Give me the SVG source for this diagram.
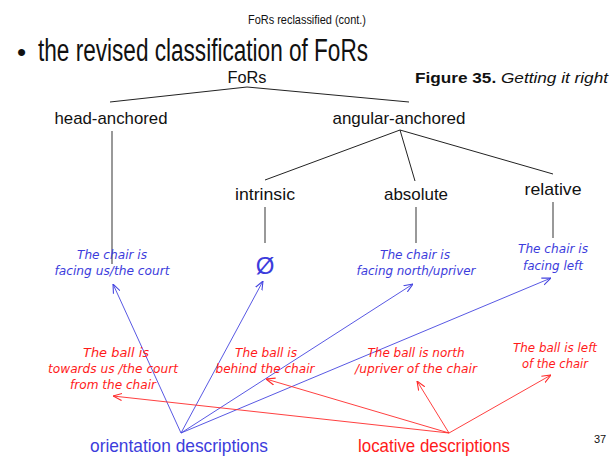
<svg xmlns="http://www.w3.org/2000/svg" width="613" height="456" viewBox="0 0 613 456">
<defs>
<style>
.k{font-family:"Liberation Sans",Arial,sans-serif;fill:#111;text-anchor:middle}
.b{font-family:"DejaVu Sans","Liberation Sans",sans-serif;font-style:italic;fill:#3c3cdc;text-anchor:middle;font-size:13px}
.r{font-family:"DejaVu Sans","Liberation Sans",sans-serif;font-style:italic;fill:#ff1a1a;text-anchor:middle;font-size:13px}
.t{stroke:#222;stroke-width:1;fill:none}
.v{stroke:#555;stroke-width:1.2;fill:none}
.ab{stroke:#4545e0;stroke-width:0.9;fill:none;marker-end:url(#mb)}
.ar{stroke:#ff2a2a;stroke-width:0.9;fill:none;marker-end:url(#mr)}
</style>
<marker id="mb" viewBox="0 0 10 10" refX="10" refY="5" markerWidth="9" markerHeight="9" markerUnits="userSpaceOnUse" orient="auto"><path d="M0,1 L10,5 L0,9" fill="none" stroke="#4545e0" stroke-width="1.2"/></marker>
<marker id="mr" viewBox="0 0 10 10" refX="10" refY="5" markerWidth="9" markerHeight="9" markerUnits="userSpaceOnUse" orient="auto"><path d="M0,1 L10,5 L0,9" fill="none" stroke="#ff2a2a" stroke-width="1.2"/></marker>
</defs>
<rect width="613" height="456" fill="#fff"/>
<g id="title">
<text class="k" x="307" y="24" font-size="13" textLength="118" lengthAdjust="spacingAndGlyphs">FoRs reclassified (cont.)</text>
<text x="17" y="61" font-family="Liberation Sans,Arial,sans-serif" font-size="26" fill="#111">•</text>
<text x="38" y="61" font-family="Liberation Sans,Arial,sans-serif" font-size="31" fill="#111" textLength="330" lengthAdjust="spacingAndGlyphs">the revised classification of FoRs</text>
<text x="415" y="83" font-family="Liberation Sans,Arial,sans-serif" font-size="14" fill="#111" textLength="193" lengthAdjust="spacingAndGlyphs"><tspan font-weight="bold">Figure 35.</tspan> <tspan font-style="italic">Getting it right</tspan></text>
</g>
<g id="connectors">
<polyline class="t" points="110,102 247,87 409,102"/>
<line class="v" x1="112" y1="131" x2="112" y2="264"/>
<line class="t" x1="400" y1="130" x2="265" y2="180"/>
<line class="t" x1="400" y1="130" x2="415" y2="181"/>
<line class="t" x1="400" y1="130" x2="553" y2="174"/>
<line class="v" x1="265" y1="207" x2="265" y2="243"/>
<line class="v" x1="416" y1="207" x2="416" y2="243"/>
<line class="v" x1="553" y1="202" x2="553" y2="238"/>
<line class="ab" x1="181" y1="433" x2="113" y2="284"/>
<line class="ab" x1="181" y1="433" x2="263" y2="281"/>
<line class="ab" x1="181" y1="433" x2="413" y2="284"/>
<line class="ab" x1="181" y1="433" x2="551" y2="278"/>
<line class="ar" x1="449" y1="433" x2="113" y2="396"/>
<line class="ar" x1="449" y1="433" x2="266" y2="379"/>
<line class="ar" x1="449" y1="433" x2="417" y2="381"/>
<line class="ar" x1="449" y1="433" x2="551" y2="375"/>
</g>
<g id="n-fors"><text class="k" x="247" y="83" font-size="17" textLength="39" lengthAdjust="spacingAndGlyphs">FoRs</text></g>
<g id="n-head"><text class="k" x="111" y="124" font-size="17" textLength="113" lengthAdjust="spacingAndGlyphs">head-anchored</text></g>
<g id="n-angular"><text class="k" x="399" y="124" font-size="17" textLength="133" lengthAdjust="spacingAndGlyphs">angular-anchored</text></g>
<g id="n-intrinsic"><text class="k" x="265" y="200" font-size="17" textLength="60" lengthAdjust="spacingAndGlyphs">intrinsic</text></g>
<g id="n-absolute"><text class="k" x="416" y="200" font-size="17" textLength="64" lengthAdjust="spacingAndGlyphs">absolute</text></g>
<g id="n-relative"><text class="k" x="553" y="195" font-size="17" textLength="57" lengthAdjust="spacingAndGlyphs">relative</text></g>
<g id="o-head">
<text class="b" x="112" y="259" textLength="70" lengthAdjust="spacingAndGlyphs">The chair is</text>
<text class="b" x="112" y="275" textLength="115" lengthAdjust="spacingAndGlyphs">facing us/the court</text>
</g>
<g id="o-intrinsic"><text x="265" y="274" font-family="Liberation Sans,sans-serif" font-size="24" fill="#3c3cdc" text-anchor="middle">Ø</text></g>
<g id="o-absolute">
<text class="b" x="415" y="259" textLength="70" lengthAdjust="spacingAndGlyphs">The chair is</text>
<text class="b" x="416" y="275" textLength="119" lengthAdjust="spacingAndGlyphs">facing north/upriver</text>
</g>
<g id="o-relative">
<text class="b" x="553" y="253" textLength="70" lengthAdjust="spacingAndGlyphs">The chair is</text>
<text class="b" x="553" y="270" textLength="60" lengthAdjust="spacingAndGlyphs">facing left</text>
</g>
<g id="l-head">
<text class="r" x="116" y="357" textLength="66" lengthAdjust="spacingAndGlyphs">The ball is</text>
<text class="r" x="113" y="373" textLength="130" lengthAdjust="spacingAndGlyphs">towards us /the court</text>
<text class="r" x="113" y="389" textLength="86" lengthAdjust="spacingAndGlyphs">from the chair</text>
</g>
<g id="l-intrinsic">
<text class="r" x="266" y="357" textLength="62" lengthAdjust="spacingAndGlyphs">The ball is</text>
<text class="r" x="265" y="373" textLength="99" lengthAdjust="spacingAndGlyphs">behind the chair</text>
</g>
<g id="l-absolute">
<text class="r" x="416" y="357" textLength="97" lengthAdjust="spacingAndGlyphs">The ball is north</text>
<text class="r" x="416" y="373" textLength="122" lengthAdjust="spacingAndGlyphs">/upriver of the chair</text>
</g>
<g id="l-relative">
<text class="r" x="555" y="352" textLength="84" lengthAdjust="spacingAndGlyphs">The ball is left</text>
<text class="r" x="555" y="368" textLength="66" lengthAdjust="spacingAndGlyphs">of the chair</text>
</g>
<g id="orientation"><text x="179" y="452" font-family="Liberation Sans,Arial,sans-serif" font-size="19" fill="#3c3cdc" text-anchor="middle" textLength="178" lengthAdjust="spacingAndGlyphs">orientation descriptions</text></g>
<g id="locative"><text x="434" y="452" font-family="Liberation Sans,Arial,sans-serif" font-size="19" fill="#ff1a1a" text-anchor="middle" textLength="152" lengthAdjust="spacingAndGlyphs">locative descriptions</text></g>
<g id="page"><text x="594" y="443" font-family="Liberation Sans,Arial,sans-serif" font-size="11" fill="#111">37</text></g>
</svg>
